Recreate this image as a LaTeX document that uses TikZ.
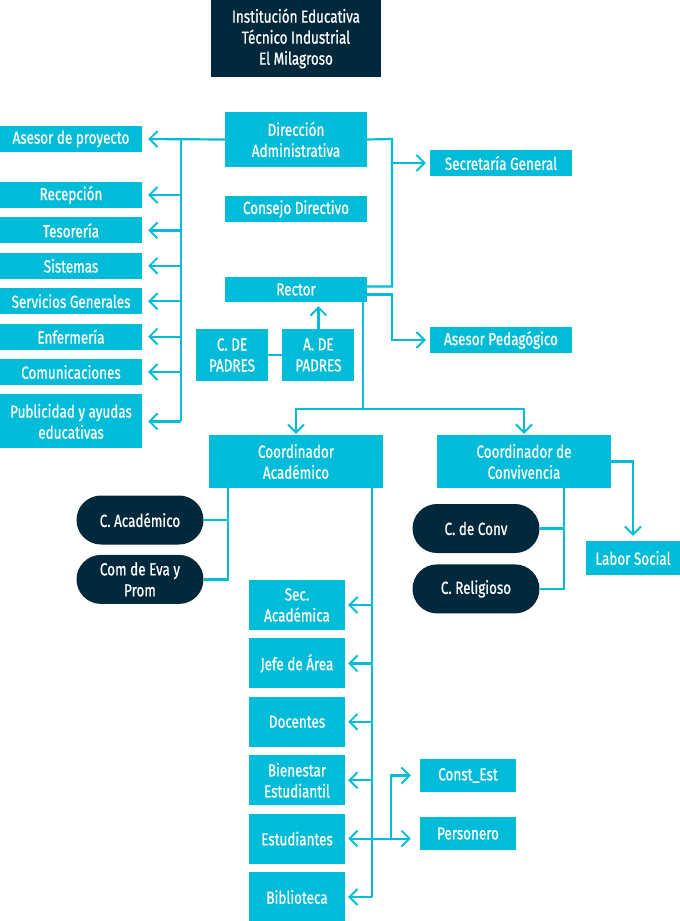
\documentclass[tikz,border=0pt]{standalone}
\usepackage{fontspec}
\setmainfont{Fira Sans}[FakeStretch=0.77, FakeBold=0.8]
\usetikzlibrary{positioning,arrows.meta,shapes.misc}
\definecolor{cyanbox}{RGB}{0,188,216}
\definecolor{navy}{RGB}{2,41,59}

\begin{document}
\begin{tikzpicture}[x=1pt, y=-1pt, node distance=9pt,
  unit/.style={rectangle, fill=cyanbox, text=white, inner sep=0pt, minimum height=26pt, minimum width=142pt, align=center, font=\fontsize{17.5}{21}\selectfont},
  head/.style={unit, fill=navy, minimum width=170pt, minimum height=77pt},
  pill/.style={unit, rounded rectangle, fill=navy, minimum width=127pt, minimum height=49pt},
  wire/.style={draw=cyanbox, line width=2.2pt},
  feed/.style={wire, -{Straight Barb[length=8pt, width=16pt, line width=1.9pt]}, shorten >=4pt}]

\useasboundingbox (0,0) rectangle (680,921);

%Nodes
\node[head]    (inst)   at (296,38.5)  {Institución Educativa\\Técnico Industrial\\El Milagroso};
\node[unit, minimum height=55pt] (dir) at (296,139.5) {Dirección\\Administrativa};
\node[unit]    (cons)   at (296,209)   {Consejo Directivo};
\node[unit, minimum height=25pt] (rect) at (296,289.5) {Rector};
\node[unit, minimum width=72pt, minimum height=52pt] (cpad) at (232,355) {C. DE\\PADRES};
\node[unit, minimum width=72pt, minimum height=52pt] (apad) [right=14pt of cpad] {A. DE\\PADRES};
\node[unit]    (secg)   at (501,163)   {Secretaría General};
\node[unit]    (aped)   at (501,340)   {Asesor Pedagógico};

\node[unit]    (asp)    at (71,139)    {Asesor de proyecto};
\node[unit]    (rec)    at (71,195)    {Recepción};
\node[unit]    (tes)    [below=of rec]  {Tesorería};
\node[unit]    (sis)    [below=of tes]  {Sistemas};
\node[unit]    (serv)   [below=of sis]  {Servicios Generales};
\node[unit]    (enf)    [below=of serv] {Enfermería};
\node[unit]    (comu)   [below=of enf]  {Comunicaciones};
\node[unit, minimum height=54pt] (pub) [below=of comu] {Publicidad y ayudas\\educativas};

\node[unit, minimum width=174pt, minimum height=53pt] (cacad) at (296,461.5) {Coordinador\\Académico};
\node[unit, minimum width=174pt, minimum height=53pt] (cconv) at (524,461.5) {Coordinador de\\Convivencia};
\node[pill]    (pacad)  at (140,520)   {C. Académico};
\node[pill]    (peva)   [below=10pt of pacad] {Com de Eva y\\Prom};
\node[pill]    (pconv)  at (476,528.5) {C. de Conv};
\node[pill]    (prel)   [below=11pt of pconv] {C. Religioso};
\node[unit, minimum width=94pt, minimum height=34pt] (lab) at (633,558) {Labor Social};

\node[unit, minimum width=96pt, minimum height=50pt] (seca) at (297,605) {Sec.\\Académica};
\node[unit, minimum width=96pt, minimum height=50pt] (jefe) [below=8pt of seca] {Jefe de Área};
\node[unit, minimum width=96pt, minimum height=50pt] (doc)  [below=8pt of jefe] {Docentes};
\node[unit, minimum width=96pt, minimum height=50pt] (bien) [below=8pt of doc]  {Bienestar\\Estudiantil};
\node[unit, minimum width=96pt, minimum height=50pt] (est)  [below=8pt of bien] {Estudiantes};
\node[unit, minimum width=96pt, minimum height=50pt] (bib)  [below=8pt of est]  {Biblioteca};
\node[unit, minimum width=96pt, minimum height=33pt] (cest) at (468,775.5) {Const\_Est};
\node[unit, minimum width=96pt, minimum height=33pt] (per)  at (468,833.5) {Personero};

%Lines
\coordinate (lbus) at (181,139);
\draw[feed, shorten >=6pt] (dir.west) -- (asp.east);
\draw[wire] (lbus) -- (lbus |- pub.east);
\foreach \n in {rec,tes,sis,serv,enf,comu,pub}
  \draw[feed, shorten >=6pt] (lbus |- \n.east) -- (\n.east);

\coordinate (rbus) at (392,139);
\draw[wire] ([yshift=3pt]rect.east) -| (rbus) -- (dir.east);
\draw[feed] (rbus |- secg.west) -- (secg.west);
\draw[feed] ([yshift=-5pt]rect.east) -| (rbus |- aped.west) -- (aped.west);

\draw[feed] (apad.north) -- (apad.north |- rect.south);
\draw[wire] (cpad.east) -- (apad.west);

\coordinate (rsplit) at (363,409);
\draw[wire] (rsplit |- rect.south) -- (rsplit);
\draw[feed, shorten >=1pt] (rsplit) -| (cacad.north);
\draw[feed, shorten >=1pt] (rsplit) -| (cconv.north);

\coordinate (abus) at (228,0);
\draw[wire] (abus |- cacad.south) -- (abus |- peva.east) -- (peva.east);
\draw[wire] (abus |- pacad.east) -- (pacad.east);

\coordinate (sbus) at (372,0);
\draw[wire] (sbus |- cacad.south) -- (sbus |- bib.east);
\foreach \n in {seca,jefe,doc,bien,est,bib}
  \draw[feed, shorten >=3pt] (sbus |- \n.east) -- (\n.east);

\coordinate (ebus) at (391,0);
\draw[feed, shorten >=9pt] (sbus |- est.east) -- (per.west |- est.east);
\draw[feed, shorten >=9pt] (ebus |- est.east) |- (cest.west);

\coordinate (cbus) at (564,0);
\draw[wire] (cbus |- cconv.south) -- (cbus |- prel.east) -- (prel.east);
\draw[wire] (cbus |- pconv.east) -- (pconv.east);
\draw[feed, shorten >=5pt] (cconv.east) -| (lab.north);

\end{tikzpicture}
\end{document}
